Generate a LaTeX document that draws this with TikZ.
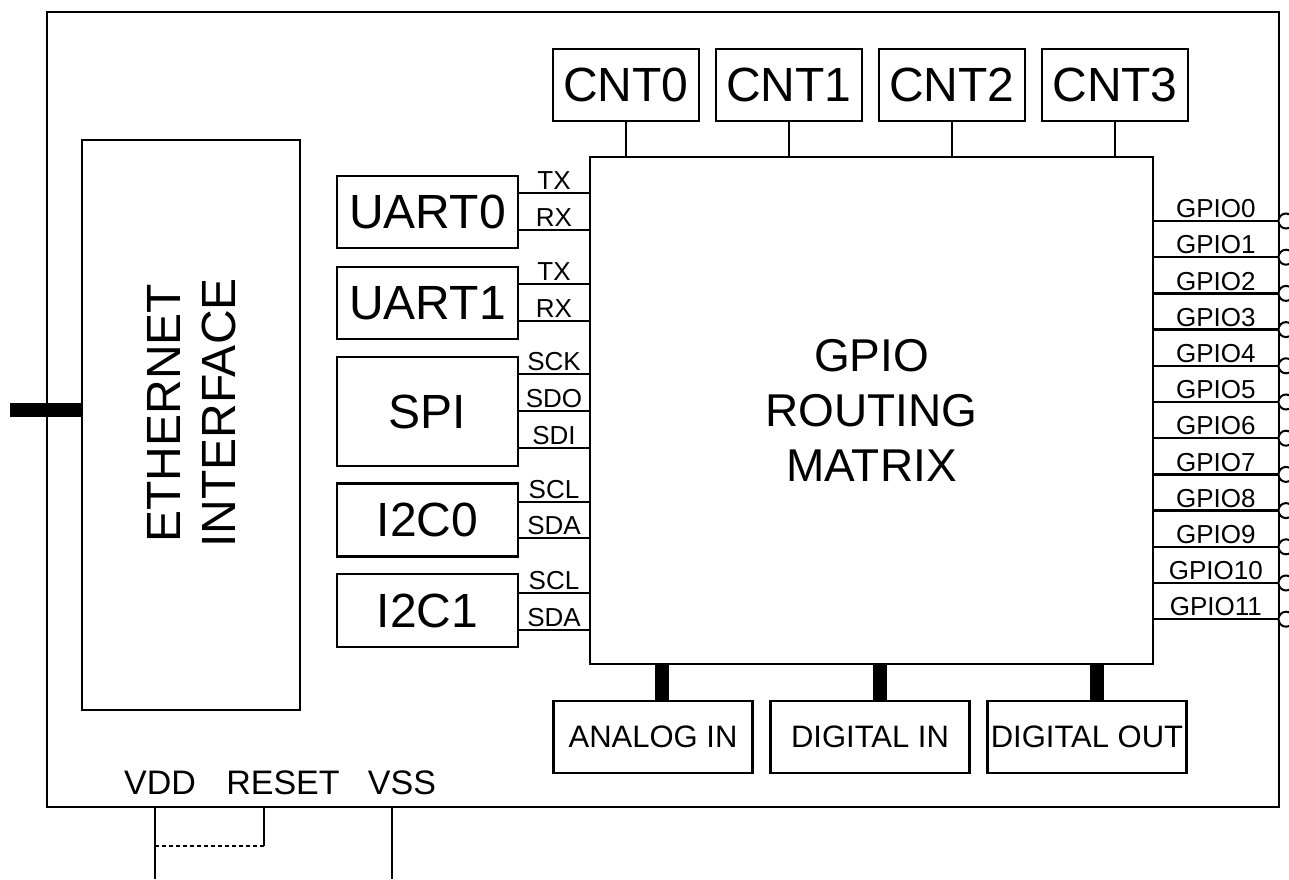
\documentclass[tikz,border=0pt]{standalone}
\usepackage{fontspec}
\setmainfont{Liberation Sans}
\usetikzlibrary{calc}
\definecolor{inkblack}{HTML}{000000}
\tikzset{
  % blocks
  chip/.style={draw=inkblack,line width=2.3pt,inner sep=0pt},
  blk/.style={draw=inkblack,line width=2.3pt,inner sep=0pt,
              font=\fontsize{48}{55}\selectfont},
  lowblk/.style={blk,minimum width=199pt,minimum height=72pt,
              font=\fontsize{31}{36}\selectfont},
  % wires
  wire/.style={draw=inkblack,line width=2.3pt},
  bus/.style={draw=inkblack,line width=14pt},
  dotline/.style={draw=inkblack,line width=2.3pt,dash pattern=on 4pt off 3pt},
  sigl/.style={font=\fontsize{26}{30}\selectfont,anchor=south,inner sep=2pt},
  gpin/.style={circle,draw=inkblack,line width=2pt,fill=white,inner sep=0pt,
               minimum size=15pt},
  rail/.style={font=\fontsize{34}{40}\selectfont,anchor=base,inner sep=0pt},
}
\begin{document}
\begin{tikzpicture}[x=1pt,y=-1pt]
  \useasboundingbox (0,0) rectangle (1289,879);
  \node[chip,minimum width=1232pt,minimum height=795pt] (chip) at (663,409.5) {};

  % left side
  \node[blk,minimum width=218pt,minimum height=570pt] (eth) at (191,425) {};
  \node[blk,draw=none,rotate=90,align=center] (ethtxt) at (192,413) {ETHERNET\\INTERFACE};
  \coordinate (ethext) at (10,410);
  \draw[bus] (ethext) -- (eth.west |- ethext);

  \node[blk,minimum width=181pt,minimum height=72pt] (uart0) at (427.5,212) {UART0};
  \node[blk,minimum width=181pt,minimum height=72pt] (uart1) at (427.5,303) {UART1};
  \node[blk,minimum width=181pt,minimum height=109pt] (spi) at (427.5,411.5) {SPI};
  \node[blk,minimum width=181pt,minimum height=73pt] (i2c0) at (427.5,520) {I2C0};
  \node[blk,minimum width=181pt,minimum height=73pt] (i2c1) at (427.5,610.5) {I2C1};

  % routing matrix
  \node[blk,minimum width=563pt,minimum height=507pt,align=center,
        font=\fontsize{46}{55}\selectfont] (mtx) at (871.5,410.5) {GPIO\\ROUTING\\MATRIX};

  \foreach \src/\y/\s in {uart0/193/TX,uart0/230/RX,uart1/284/TX,uart1/321/RX,
      spi/374/SCK,spi/411/SDO,spi/448/SDI,i2c0/502/SCL,i2c0/538/SDA,
      i2c1/593/SCL,i2c1/630/SDA}
    \draw[wire] (\src.east |- 0,\y) -- (mtx.west |- 0,\y) node[midway,sigl] {\s};

  % counters
  \foreach \i/\x in {0/626,1/789,2/952,3/1115} {
    \node[blk,minimum width=146pt,minimum height=72pt] (cnt\i) at (\x,85) {CNT\i};
    \draw[wire] (cnt\i.south) -- (cnt\i.south |- mtx.north);
  }

  % gpio pins
  \foreach \i in {0,...,11} {
    \pgfmathsetmacro\gy{221+36.2*\i}
    \node[gpin] (gp\i) at (1286,\gy) {};
    \draw[wire] (mtx.east |- gp\i) -- (gp\i.west) node[midway,sigl] {GPIO\i};
  }

  % lower blocks
  \foreach \n/\x/\t/\b in {ain/653/ANALOG IN/662,din/870/DIGITAL IN/880,dout/1087/DIGITAL OUT/1097} {
    \node[lowblk] (\n) at (\x,737) {\t};
    \draw[bus] (mtx.south -| \b,0) -- (\n.north -| \b,0);
  }

  % supply pins
  \node[rail] (vdd) at (160,794) {VDD};
  \node[rail] (rst) at (283,794) {RESET};
  \node[rail] (vss) at (402,794) {VSS};
  \coordinate (vddend) at (155,879);
  \coordinate (rstend) at (264,846);
  \coordinate (vssend) at (392,879);
  \draw[wire] (chip.south -| vddend) -- (vddend);
  \draw[wire] (chip.south -| rstend) -- (rstend);
  \draw[wire] (chip.south -| vssend) -- (vssend);
  \draw[dotline] (rstend) -- (rstend -| vddend);
\end{tikzpicture}
\end{document}
